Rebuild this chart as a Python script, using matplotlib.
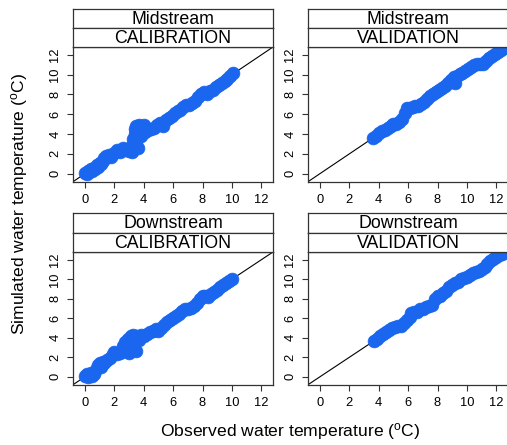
import matplotlib
matplotlib.use("Agg")
import matplotlib.pyplot as plt

plt.rcParams['font.family'] = ['Liberation Sans', 'DejaVu Sans']

# Midstream calibration
mc_obs = [0.0, 0.1, 0.2, 0.3, 0.4, 0.5, 0.6, 0.7, 0.8, 0.9, 1.0, 1.1, 1.2, 1.3, 1.4, 1.5, 1.6, 1.8,
          2.0, 2.2, 2.4, 2.6, 2.8, 3.0, 3.1, 3.2, 3.3, 3.3, 3.4, 3.4, 3.5, 3.5, 3.6, 3.6, 3.7, 3.8,
          3.9, 4.0, 4.1, 4.3, 4.5, 4.7, 4.9, 5.1, 5.3, 5.5, 5.7, 5.9, 6.1, 6.3, 6.5, 6.7, 6.9, 7.1,
          7.3, 7.5, 7.7, 7.9, 8.1, 8.3, 8.5, 8.7, 8.9, 9.1, 9.3, 9.5, 9.7, 9.9, 10.1]
mc_sim = [0.1, 0.0, 0.3, 0.2, 0.5, 0.3, 0.6, 0.5, 0.9, 0.7, 1.1, 1.0, 1.3, 1.6, 1.8, 1.7, 1.9, 1.7,
          2.1, 2.4, 2.2, 2.6, 2.4, 2.3, 2.7, 2.2, 3.0, 3.5, 4.0, 4.5, 4.8, 3.2, 2.6, 4.2, 4.9, 3.8,
          4.7, 4.9, 4.2, 4.4, 4.5, 4.6, 4.9, 5.1, 4.8, 5.4, 5.6, 5.8, 6.1, 6.3, 6.4, 6.7, 6.9, 6.9,
          7.1, 7.3, 7.7, 8.0, 8.3, 8.0, 8.4, 8.5, 8.8, 9.0, 9.2, 9.4, 9.6, 9.9, 10.2]

# Midstream validation
mv_obs = [3.6, 3.8, 4.0, 4.2, 4.4, 4.6, 4.8, 5.0, 5.2, 5.4, 5.6, 5.8, 5.9, 6.1, 6.3, 6.5, 6.7, 6.9,
          7.1, 7.3, 7.5, 7.7, 7.9, 8.1, 8.3, 8.5, 8.7, 8.9, 9.1, 9.2, 9.3, 9.5, 9.7, 9.9, 10.1, 10.3,
          10.5, 10.7, 10.9, 11.1, 11.3, 11.5, 11.7, 11.9, 12.1, 12.3, 12.5, 12.7]
mv_sim = [3.6, 3.8, 4.1, 4.3, 4.4, 4.6, 4.8, 5.0, 5.0, 5.2, 5.5, 6.1, 6.6, 6.6, 6.7, 6.8, 6.8, 7.0,
          7.2, 7.5, 7.8, 8.0, 8.3, 8.5, 8.7, 8.9, 9.2, 9.5, 9.8, 9.2, 9.9, 10.1, 10.2, 10.4, 10.6, 10.8,
          11.0, 11.1, 11.1, 11.1, 11.4, 11.7, 11.9, 12.1, 12.3, 12.5, 12.7, 12.9]

# Downstream calibration
dc_obs = [0.0, 0.1, 0.2, 0.3, 0.4, 0.5, 0.6, 0.7, 0.8, 0.9, 1.0, 1.1, 1.2, 1.3, 1.5, 1.7, 1.9, 2.0,
          2.2, 2.4, 2.6, 2.6, 2.7, 2.8, 2.9, 3.0, 3.1, 3.1, 3.2, 3.3, 3.4, 3.5, 3.5, 3.7, 3.8, 4.0,
          4.2, 4.4, 4.6, 4.8, 5.0, 5.2, 5.4, 5.6, 5.8, 6.0, 6.2, 6.4, 6.6, 6.8, 7.0, 7.2, 7.4, 7.6,
          7.8, 8.0, 8.2, 8.4, 8.6, 8.8, 9.0, 9.2, 9.4, 9.6, 9.8, 10.0]
dc_sim = [0.1, 0.3, 0.0, 0.2, 0.4, 0.1, 0.3, 0.6, 0.9, 1.2, 1.4, 1.0, 1.5, 1.4, 1.7, 1.9, 2.3, 2.5,
          2.3, 2.4, 2.7, 3.2, 3.6, 2.6, 3.9, 2.4, 3.3, 4.2, 2.9, 4.3, 3.6, 2.6, 4.2, 3.8, 4.3, 4.2,
          4.4, 4.6, 4.7, 4.9, 4.7, 5.0, 5.3, 5.6, 5.8, 6.0, 6.2, 6.4, 6.7, 6.9, 7.0, 7.1, 7.3, 7.6,
          8.0, 8.3, 8.3, 8.2, 8.5, 8.7, 8.9, 9.2, 9.4, 9.6, 9.8, 10.0]

# Downstream validation
dv_obs = [3.7, 3.9, 4.1, 4.3, 4.5, 4.7, 4.9, 5.1, 5.3, 5.5, 5.7, 5.9, 6.1, 6.2, 6.4, 6.6, 6.8, 7.0,
          7.2, 7.4, 7.6, 7.8, 8.0, 8.2, 8.4, 8.6, 8.8, 9.0, 9.2, 9.4, 9.6, 9.8, 10.0, 10.2, 10.4, 10.6,
          10.8, 11.0, 11.2, 11.4, 11.6, 11.8, 12.0, 12.2, 12.4, 12.6, 12.8]
dv_sim = [3.7, 3.9, 4.2, 4.4, 4.6, 4.8, 5.0, 5.1, 5.2, 5.2, 5.5, 5.8, 6.1, 6.5, 6.6, 6.6, 6.9, 7.0,
          7.2, 7.3, 7.4, 8.0, 8.3, 8.3, 8.6, 8.8, 9.2, 9.4, 9.6, 9.7, 10.0, 10.1, 10.2, 10.4, 10.6, 10.7,
          10.9, 11.1, 11.3, 11.6, 11.9, 12.1, 12.3, 12.5, 12.6, 12.8, 13.0]

sites = ["Midstream", "Midstream", "Downstream", "Downstream"]
periods = ["CALIBRATION", "VALIDATION", "CALIBRATION", "VALIDATION"]
ticks = [0, 2, 4, 6, 8, 10, 12]

W, H = 507, 445
fig = plt.figure(figsize=(W / 100, H / 100), dpi=100)

# panel boxes in pixels: left, plot top, plot bottom, strip top
lefts = [73, 308, 73, 308]
tops = [47, 47, 252, 252]
bottoms = [182, 182, 385, 385]
strip_tops = [9, 9, 213, 213]
pw = 200

data = [(mc_obs, mc_sim), (mv_obs, mv_sim), (dc_obs, dc_sim), (dv_obs, dv_sim)]
edge = "#333333"

for i in range(4):
    l, t, b, st = lefts[i], tops[i], bottoms[i], strip_tops[i]
    ax = fig.add_axes([l / W, 1 - b / H, pw / W, (b - t) / H])
    obs, sim = data[i]
    ax.axline((0, 0), slope=1, color="black", lw=0.8, zorder=1)
    ax.scatter(obs, sim, s=85, color="#1a66ee", edgecolors="#1a66ee", linewidths=0.5, zorder=2)
    ax.set_xlim(-0.82, 12.8)
    ax.set_ylim(-0.85, 12.8)
    ax.set_xticks(ticks)
    ax.set_yticks(ticks)
    ax.tick_params(direction="out", length=4.5, width=0.8, color=edge, labelsize=9.3, pad=4)
    for lab in ax.get_yticklabels():
        lab.set_rotation(90)
        lab.set_va("center")
    for sp in ax.spines.values():
        sp.set_color(edge)
        sp.set_linewidth(0.9)
    # strips
    sh = (t - st) / 2
    for j, txt in enumerate([sites[i], periods[i]]):
        y0 = st + j * sh
        sax = fig.add_axes([l / W, 1 - (y0 + sh) / H, pw / W, sh / H])
        sax.set_xticks([])
        sax.set_yticks([])
        for sp in sax.spines.values():
            sp.set_color(edge)
            sp.set_linewidth(0.9)
        sax.text(0.5, 0.45, txt, ha="center", va="center", fontsize=12.8, transform=sax.transAxes)

fig.text(290 / W, 1 - 432 / H, "Observed water temperature ($\\mathregular{^o}$C)",
         ha="center", va="center", fontsize=12.6)
fig.text(20 / W, 1 - 204 / H, "Simulated water temperature ($\\mathregular{^o}$C)",
         ha="center", va="center", rotation=90, fontsize=12.6)

fig.savefig("out.png", dpi=100)
